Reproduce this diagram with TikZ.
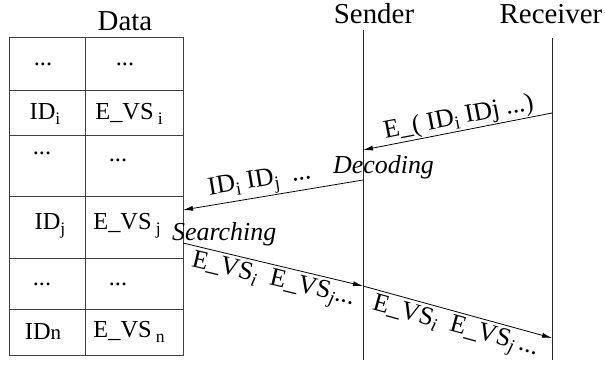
\documentclass[tikz,border=0pt]{standalone}
\usepackage{fontspec}
\setmainfont{Liberation Serif}
\usetikzlibrary{arrows.meta}
\newcommand\dn[1]{\raisebox{-0.4ex}{\scalebox{0.72}{#1}}}
\begin{document}
\begin{tikzpicture}[x=1bp,y=-1bp,
  tbl/.style={draw=black!75, line width=0.8bp},
  cell/.style={font=\fontsize{24.5}{28}\selectfont, inner sep=0pt},
  head/.style={font=\fontsize{29}{33}\selectfont, inner sep=0pt, anchor=base},
  lab/.style={font=\fontsize{26}{30}\selectfont, inner sep=1pt},
  life/.style={draw=black!85, line width=0.8bp},
  msg/.style={draw=black, line width=0.8bp, -{Latex[length=10bp,width=5bp]}},
]
\useasboundingbox (0,0) rectangle (605,366);
% table
\draw[tbl] (9,37) rectangle (183,355);
\foreach \y in {90,135,196,258,309} \draw[tbl] (9,\y) -- (183,\y);
\draw[tbl] (85,37) -- (85,355);
% cell texts
\node[cell] (c11) at (43,64) {...};
\node[cell] (c12) at (125,64) {...};
\node[cell] (c21) at (45,114) {ID\dn{i}};
\node[cell] (c22) at (129,114) {E\_VS\,\dn{i}};
\node[cell] (c31) at (42,153) {...};
\node[cell] (c32) at (118,160) {...};
\node[cell] (c41) at (50,226) {ID\dn{j}};
\node[cell] (c42) at (127,226) {E\_VS\,\dn{j}};
\node[cell] (c51) at (42,284) {...};
\node[cell] (c52) at (118,284) {...};
\node[cell] (c61) at (43,332) {ID{\fontsize{21}{22}\selectfont n}};
\node[cell] (c62) at (129,332) {E\_VS\,\dn{n}};
% headers
\node[head] (data) at (125,30) {Data};
\node[head] (sender) at (374,23) {Sender};
\node[head] (receiver) at (551,23) {Receiver};
% lifelines
\coordinate (sTop) at (363,30);
\coordinate (sBot) at (363,360);
\coordinate (rTop) at (552,38);
\coordinate (rBot) at (552,360);
\draw[life] (sTop) -- (sBot);
\draw[life] (rTop) -- (rBot);
% message points
\coordinate (m1a) at (552,113);
\coordinate (m1b) at (363,150);
\coordinate (m2a) at (363,180);
\coordinate (m2b) at (183,210);
\coordinate (m3a) at (183,243);
\coordinate (m3b) at (363,286);
\coordinate (m4b) at (552,338);
\draw[msg] (m1a) -- node[lab, sloped, above, pos=0.48] {E\_( ID\dn{i} IDj ...)} (m1b);
\draw[msg] (m2a) -- node[lab, sloped, above, pos=0.56] {ID\dn{i} ID\dn{j} \ ...} (m2b);
\draw[msg] (m3a) -- node[lab, sloped, below, pos=0.52, inner sep=3bp] {E\_VS\dn{\itshape i}\ \ E\_VS\dn{\itshape j}...} (m3b);
\draw[msg] (m3b) -- node[lab, sloped, below, pos=0.51, inner sep=3bp] {E\_VS\dn{\itshape i}\ \ E\_VS\dn{\itshape j}\,...} (m4b);
% annotations
\node[lab, anchor=base west, inner sep=0pt] (dec) at (333,173) {\itshape Decoding};
\node[lab, anchor=base west, inner sep=0pt] (srch) at (172,240) {\itshape Searching};
\end{tikzpicture}
\end{document}
